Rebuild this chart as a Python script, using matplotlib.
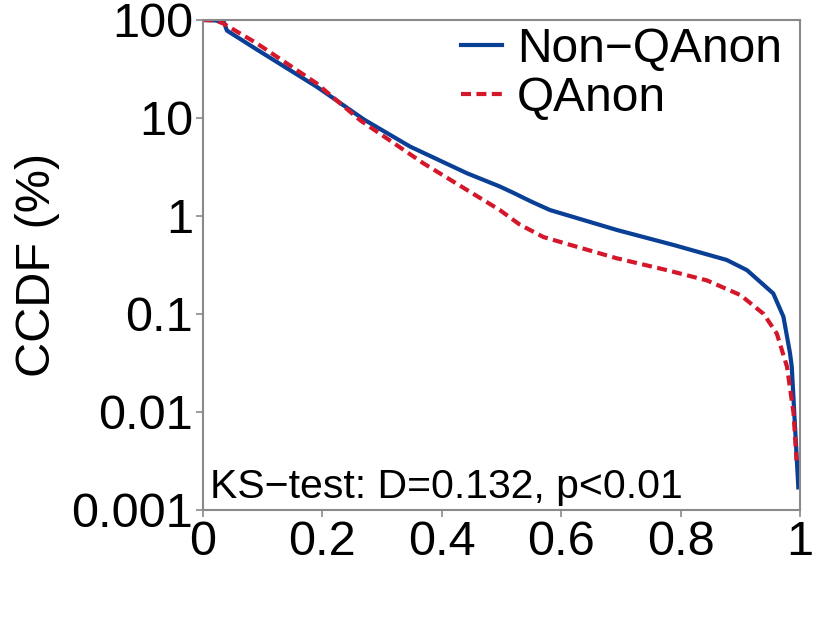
import matplotlib
matplotlib.use("Agg")
import matplotlib.pyplot as plt

plt.rcParams["font.family"] = ["Liberation Sans", "DejaVu Sans"]

# values (x: fraction, y: CCDF in %)
nonq_x = [0.0, 0.02, 0.035, 0.04, 0.09, 0.19, 0.2, 0.27, 0.347, 0.442, 0.497, 0.52,
          0.55, 0.581, 0.693, 0.788, 0.877, 0.911, 0.955, 0.972, 0.983, 0.986, 0.997]
nonq_y = [100, 99, 95, 78, 50, 20.9, 19.0, 9.6, 5.1, 2.73, 2.0, 1.72,
          1.4, 1.15, 0.72, 0.506, 0.356, 0.28, 0.162, 0.094, 0.040, 0.029, 0.0017]

qanon_x = [0.0, 0.02, 0.034, 0.09, 0.19, 0.263, 0.369, 0.497, 0.53, 0.57, 0.609,
           0.693, 0.777, 0.844, 0.9, 0.939, 0.961, 0.978, 0.989, 0.994]
qanon_y = [100, 99, 92, 57.8, 22.6, 9.5, 3.45, 1.15, 0.82, 0.61, 0.52,
           0.37, 0.28, 0.22, 0.156, 0.10, 0.063, 0.029, 0.0097, 0.0032]

x_ticks = [0, 0.2, 0.4, 0.6, 0.8, 1]
x_tick_labels = ["0", "0.2", "0.4", "0.6", "0.8", "1"]
y_ticks = [0.001, 0.01, 0.1, 1, 10, 100]
y_tick_labels = ["0.001", "0.01", "0.1", "1", "10", "100"]

blue = "#0a3f96"
red = "#d4172b"
gray = "#8a8a8a"

fig = plt.figure(figsize=(8.3, 6.24), dpi=100)
ax = fig.add_axes([0.2446, 0.1827, 0.7194, 0.7853])

ax.plot(nonq_x, nonq_y, color=blue, lw=3, label="Non\u2212QAnon")
ax.plot(qanon_x, qanon_y, color=red, lw=3, dashes=(2.4, 1.3), label="QAnon")

ax.set_yscale("log")
ax.set_xlim(0, 1)
ax.set_ylim(0.001, 100)
ax.set_xticks(x_ticks)
ax.set_xticklabels(x_tick_labels)
ax.set_yticks(y_ticks)
ax.set_yticklabels(y_tick_labels)
ax.minorticks_off()
ax.tick_params(labelsize=35, color=gray, length=5, width=1.2, pad=2)
for s in ax.spines.values():
    s.set_color(gray)
    s.set_linewidth(1.5)

ax.set_ylabel("CCDF (%)", fontsize=35, labelpad=8)

ax.text(0.012, 0.008, "KS\u2212test: D=0.132, p<0.01", transform=ax.transAxes,
        fontsize=29.5, ha="left", va="bottom")

ax.legend(loc="upper right", fontsize=34.5, frameon=False, handlelength=0.85,
          handletextpad=0.32, labelspacing=0.08, borderaxespad=0.1,
          bbox_to_anchor=(1.01, 1.035))

fig.savefig("out.png", dpi=100)
